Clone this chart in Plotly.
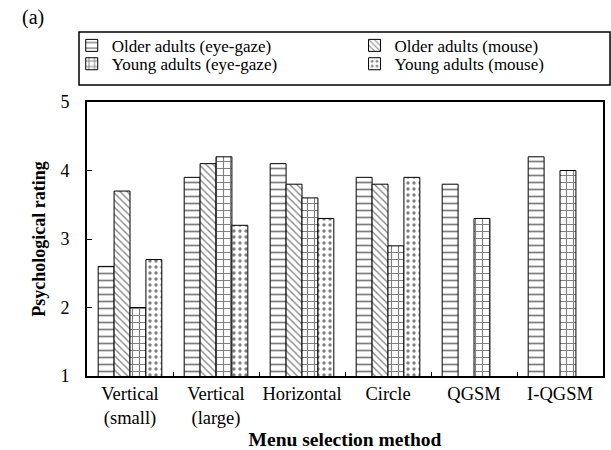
import plotly.graph_objects as go

categories = ["Vertical<br>(small)", "Vertical<br>(large)", "Horizontal", "Circle", "QGSM", "I-QGSM"]
older_eye = [2.6, 3.9, 4.1, 3.9, 3.8, 4.2]
older_mouse = [3.7, 4.1, 3.8, 3.8, None, None]
young_eye = [2.0, 4.2, 3.6, 2.9, 3.3, 4.0]
young_mouse = [2.7, 3.2, 3.3, 3.9, None, None]

series = [
    ("Older adults (eye-gaze)", older_eye, "-", 7, "legend"),
    ("Older adults (mouse)", older_mouse, "\\", 5, "legend2"),
    ("Young adults (eye-gaze)", young_eye, "+", 7, "legend3"),
    ("Young adults (mouse)", young_mouse, ".", 6, "legend4"),
]

FONT = "Liberation Serif, Times New Roman, serif"

fig = go.Figure()
for name, vals, shape, size, lg in series:
    fig.add_trace(go.Bar(
        x=categories, y=vals, name=name, legend=lg, showlegend=True,
        marker=dict(
            color="white",
            line=dict(color="black", width=1),
            pattern=dict(shape=shape, fgcolor="black", bgcolor="white",
                         size=size, solidity=0.3 if shape == "+" else 0.25,
                         fillmode="overlay"),
        ),
    ))

def lg(x, y):
    return dict(x=x, xanchor="left", y=y, yanchor="middle",
                bgcolor="rgba(0,0,0,0)", borderwidth=0,
                font=dict(family=FONT, size=17), itemwidth=30)

fig.update_layout(
    width=611, height=450,
    showlegend=True,
    margin=dict(l=87, r=8, t=102, b=74, autoexpand=False),
    paper_bgcolor="white", plot_bgcolor="white",
    barmode="group", bargap=0.26, bargroupgap=0,
    font=dict(family=FONT, size=17, color="black"),
    legend=lg(-0.0296, 1.205),
    legend2=lg(0.5185, 1.205),
    legend3=lg(-0.0296, 1.138),
    legend4=lg(0.5185, 1.138),
    xaxis=dict(
        showline=True, linecolor="black", linewidth=2, mirror=True,
        ticks="inside", tickson="boundaries", ticklen=4, tickcolor="black",
        showgrid=False, tickangle=0, automargin=False,
        title=dict(text="<b>Menu selection method</b>", font=dict(size=19.5), standoff=8),
        tickfont=dict(size=18.5),
    ),
    yaxis=dict(
        range=[1, 5], dtick=1, showline=True, linecolor="black", linewidth=2, mirror=True,
        ticks="inside", ticklen=5, tickcolor="black", showgrid=False, zeroline=False,
        automargin=False,
        title=dict(text="<b>Psychological rating</b>", font=dict(size=18), standoff=10),
        tickfont=dict(size=18), ticklabelstandoff=12,
    ),
    shapes=[dict(type="rect", xref="paper", yref="paper",
                 x0=-0.0155, x1=1.0136, y0=1.062, y1=1.2555,
                 line=dict(color="black", width=1.5), fillcolor="rgba(0,0,0,0)")],
    annotations=[dict(text="(a)", xref="paper", yref="paper",
                      x=-0.105, y=1.307, xanchor="center", yanchor="middle",
                      showarrow=False, font=dict(family=FONT, size=20))],
)

fig.write_html("out.html", config={"displayModeBar": False},
               post_script="document.body.style.margin='0px';")
